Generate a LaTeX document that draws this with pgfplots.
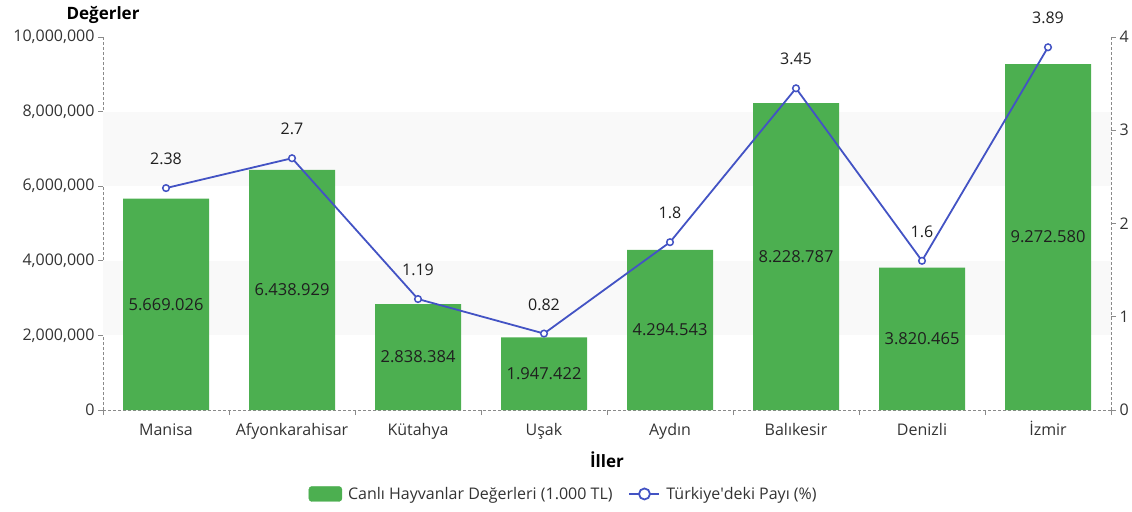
\documentclass[border=0pt]{standalone}
\usepackage{fontspec}
\setmainfont{Open Sans}
\usepackage{pgfplots}
\usepackage{pgfplotstable}
\pgfplotsset{compat=1.18}
\definecolor{barg}{HTML}{4CAF50}
\definecolor{lineb}{HTML}{4353C4}
\definecolor{axgray}{HTML}{8A8A8A}
\definecolor{txt}{HTML}{333333}
\definecolor{band}{HTML}{F9F9F9}

% Canlı hayvan değerleri (1.000 TL)
\pgfplotstableread{
x val lab
0 5669026 5.669.026
1 6438929 6.438.929
2 2838384 2.838.384
3 1947422 1.947.422
4 4294543 4.294.543
5 8228787 8.228.787
6 3820465 3.820.465
7 9272580 9.272.580
}\bars

% Türkiye'deki payı (%)
\pgfplotstableread{
x share
0 2.38
1 2.7
2 1.19
3 0.82
4 1.8
5 3.45
6 1.6
7 3.89
}\shares

\pgfplotsset{
  base/.style={
    scale only axis, width=1008pt, height=373pt,
    xmin=-0.5, xmax=7.5,
    tick align=outside, major tick length=5pt,
    axis line style={axgray, line width=0.8pt, dash pattern=on 3pt off 2pt},
    tick style={axgray, solid, line width=0.8pt},
    ticklabel style={font=\fontsize{16}{19}\selectfont, text=txt},
    /pgf/number format/assume math mode=true,
  }
}

\begin{document}
\begin{tikzpicture}
\begin{axis}[base, name=ax, clip=false,
    axis x line*=bottom, axis y line*=left,
    ymin=0, ymax=10000000,
    ytick={0,2000000,4000000,6000000,8000000,10000000},
    scaled y ticks=false,
    yticklabel style={/pgf/number format/.cd, fixed, 1000 sep={,}},
    xtick={-0.5,0.5,...,7.5},
    x tick label as interval,
    xticklabels={Manisa,Afyonkarahisar,Kütahya,Uşak,Aydın,Balıkesir,Denizli,İzmir},
    xticklabel style={text height=12pt, text depth=3pt, yshift=-5pt},
    xlabel={İller},
    xlabel style={font=\bfseries\fontsize{17}{20}\selectfont, text=black,
      at={(axis description cs:0.5,0)}, anchor=center, yshift=-50pt},
]
\fill[band] (axis cs:-0.5,2000000) rectangle (axis cs:7.5,4000000);
\fill[band] (axis cs:-0.5,6000000) rectangle (axis cs:7.5,8000000);
\addplot[ybar, bar width=86pt, fill=barg, draw=none] table[x=x, y=val] {\bars};
\addplot[draw=none, mark=none, nodes near coords, point meta=explicit symbolic,
  every node near coord/.append style={anchor=center, font=\fontsize{16.5}{19}\selectfont, text=black!88}]
  table[x=x, y expr=\thisrow{val}/2, meta=lab] {\bars};
\node[font=\bfseries\fontsize{17}{20}\selectfont, anchor=center, text=black] at (rel axis cs:0,1) [yshift=22pt] {Değerler};
\end{axis}

\begin{axis}[base,
    axis x line=none, axis y line*=right,
    ymin=0, ymax=4, ytick={0,1,2,3,4},
    clip=false,
    legend style={at={(0.457,-0.225)}, anchor=center, draw=none,
      font=\fontsize{16}{19}\selectfont, text=txt, legend columns=2,
      /tikz/every odd column/.append style={column sep=4pt},
      /tikz/every even column/.append style={column sep=14pt}},
]
\addlegendimage{legend image code/.code={\fill[barg, rounded corners=3pt] (0pt,-7.5pt) rectangle (33pt,7.5pt);}}
\addlegendentry{Canlı Hayvanlar Değerleri (1.000 TL)}
\addplot[lineb, line width=1.8pt, mark=*, mark size=3.3pt,
  mark options={fill=white, solid, line width=1.5pt},
  nodes near coords, point meta=y,
  every node near coord/.append style={anchor=center, yshift=29pt, text=black!88,
    font=\fontsize{16}{19}\selectfont},
  legend image code/.code={\draw[lineb, line width=1.8pt] (0pt,0pt) -- (30pt,0pt);
    \draw[lineb, line width=1.8pt, fill=white] (15pt,0pt) circle (5.5pt);}]
  table[x=x, y=share] {\shares};
\addlegendentry{Türkiye\textquotesingle deki Payı (\%)}
\end{axis}
\pgfresetboundingbox
\path ([shift={(-103pt,-101pt)}]ax.south west) rectangle ([shift={(21pt,37pt)}]ax.north east);
\end{tikzpicture}
\end{document}
